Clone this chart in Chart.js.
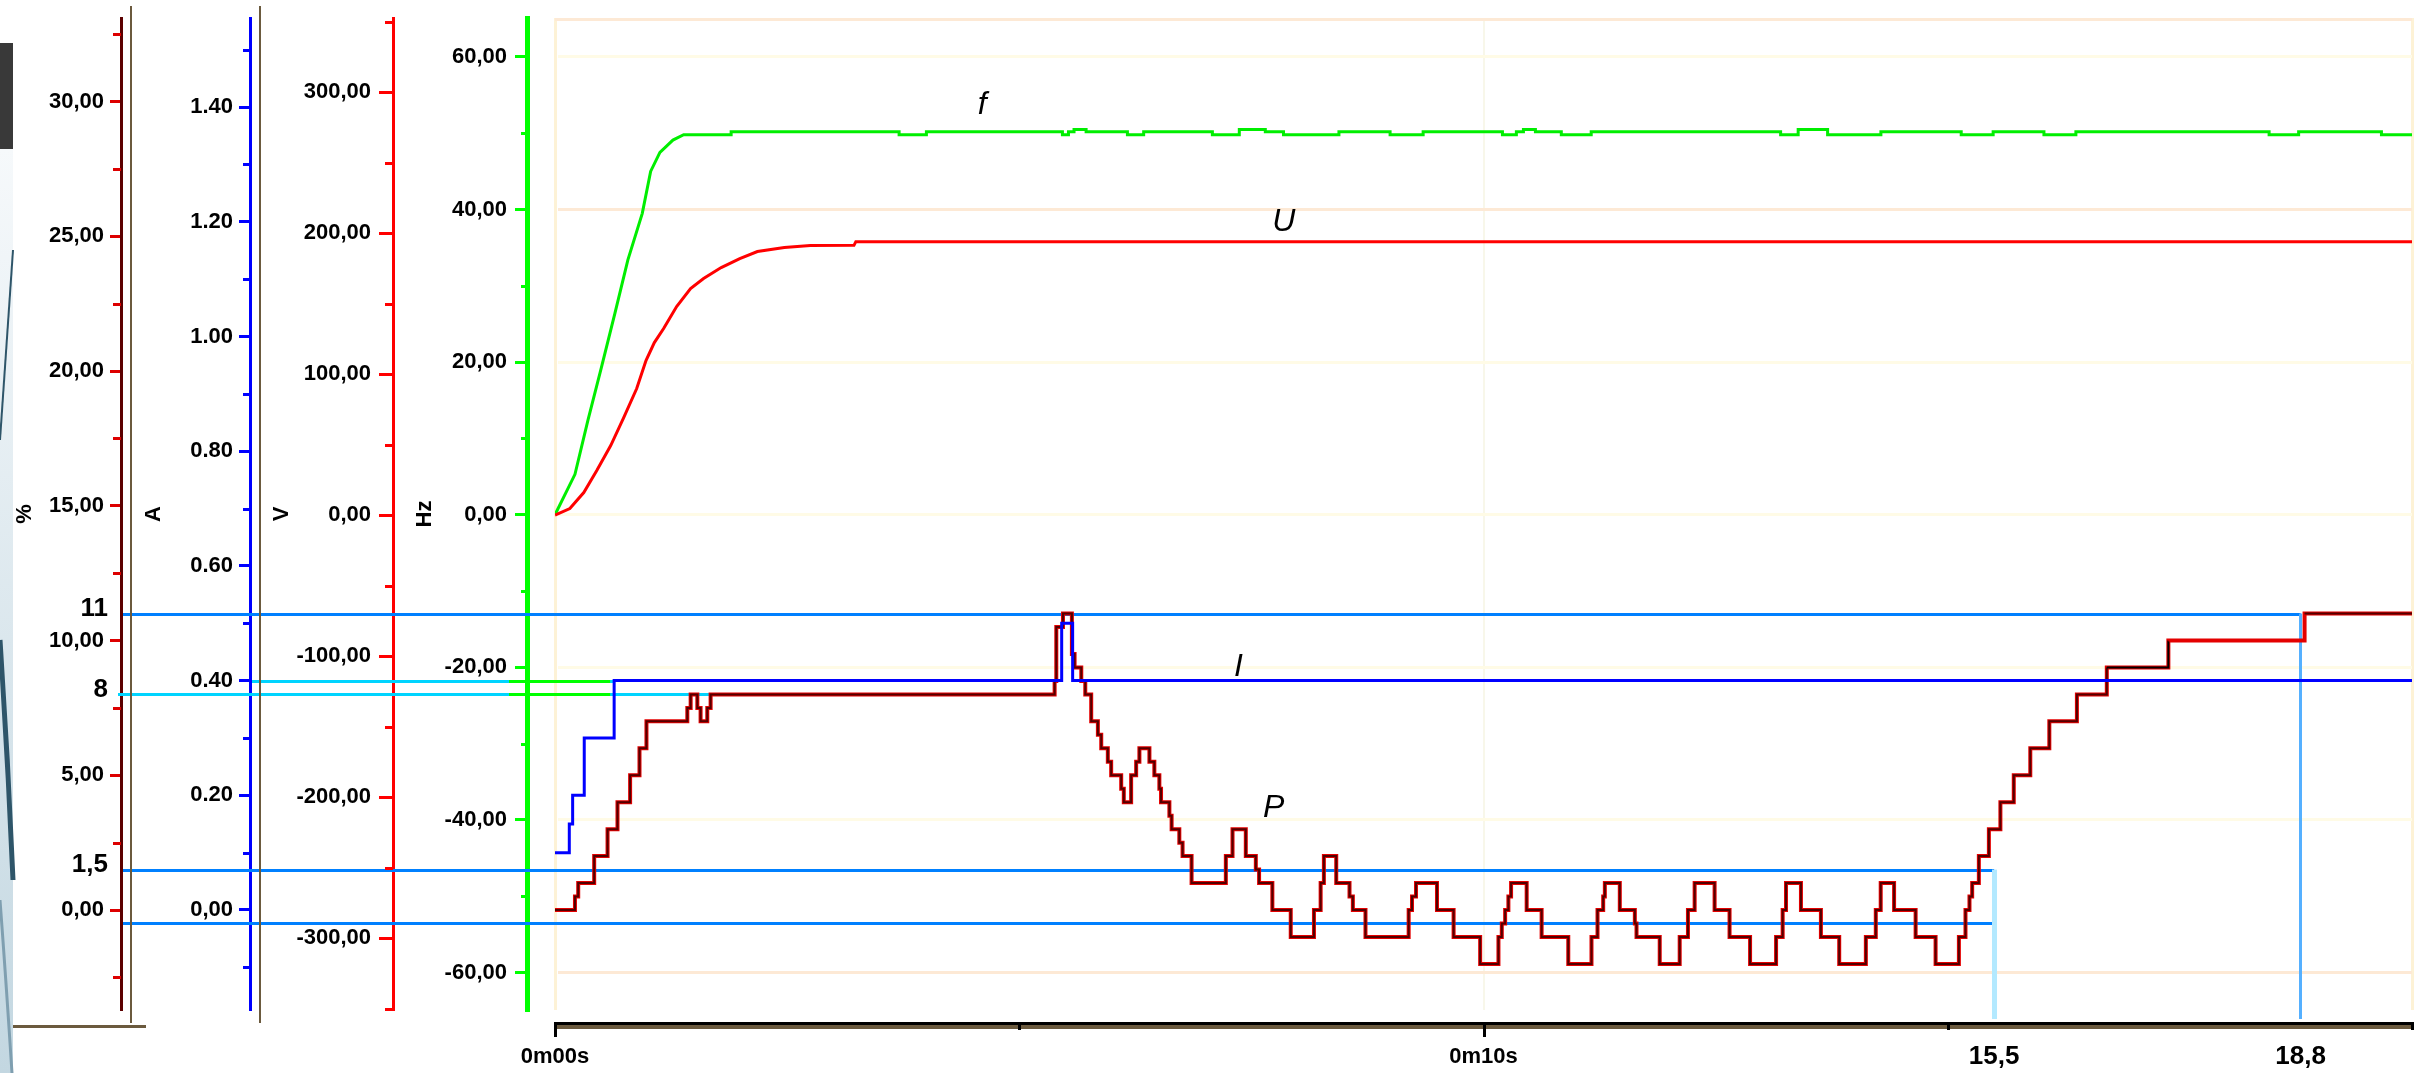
<!DOCTYPE html>
<html>
<head>
<meta charset="utf-8">
<script src="https://cdn.jsdelivr.net/npm/chart.js@4.4.1/dist/chart.umd.min.js"></script>
<style>
  html, body { margin: 0; padding: 0; background: #ffffff; }
  #wrap { position: relative; width: 2422px; height: 1073px; }
  canvas { display: block; }
</style>
</head>
<body>
<div id="wrap"><canvas id="c" width="2422" height="1073"></canvas></div>
<script>
// ---- time axis (seconds) ----
const xTickValues = [0, 10];
const xTickLabels = ['0m00s', '0m10s'];

// ---- axis ticks ----
const hzTicks = [60, 40, 20, 0, -20, -40, -60];
const hzTickLabels = ['60,00', '40,00', '20,00', '0,00', '-20,00', '-40,00', '-60,00'];
const vTicks = [300, 200, 100, 0, -100, -200, -300];
const vTickLabels = ['300,00', '200,00', '100,00', '0,00', '-100,00', '-200,00', '-300,00'];
const aTicks = [1.4, 1.2, 1.0, 0.8, 0.6, 0.4, 0.2, 0];
const aTickLabels = ['1.40', '1.20', '1.00', '0.80', '0.60', '0.40', '0.20', '0,00'];
const pctTicks = [30, 25, 20, 15, 10, 5, 0];
const pctTickLabels = ['30,00', '25,00', '20,00', '15,00', '10,00', '5,00', '0,00'];

// ---- f : output frequency (Hz) ----
const fT = [0, 0.215, 0.355, 0.5, 0.645, 0.785, 0.94, 1.03, 1.13, 1.27, 1.386, 1.897, 1.897, 3.706, 3.706, 4.0, 4.0,
  5.465, 5.465, 5.53, 5.53, 5.59, 5.59, 5.72, 5.72, 6.165, 6.165, 6.34, 6.34, 7.08, 7.08, 7.37, 7.37, 7.65, 7.65,
  7.846, 7.846, 8.443, 8.443, 8.994, 8.994, 9.35, 9.35, 10.204, 10.204, 10.354, 10.354, 10.43, 10.43, 10.559, 10.559,
  10.838, 10.838, 11.16, 11.16, 13.2, 13.2, 13.389, 13.389, 13.706, 13.706, 14.28, 14.28, 15.145, 15.145, 15.489, 15.489,
  16.036, 16.036, 16.38, 16.38, 18.461, 18.461, 18.779, 18.779, 19.671, 19.671, 20];
const fHz = [0, 5.3, 12.4, 19.3, 26.4, 33.4, 39.5, 45.0, 47.5, 49.1, 49.8, 49.8, 50.2, 50.2, 49.8, 49.8, 50.2,
  50.2, 49.8, 49.8, 50.2, 50.2, 50.5, 50.5, 50.2, 50.2, 49.8, 49.8, 50.2, 50.2, 49.8, 49.8, 50.5, 50.5, 50.2,
  50.2, 49.8, 49.8, 50.2, 50.2, 49.8, 49.8, 50.2, 50.2, 49.8, 49.8, 50.2, 50.2, 50.5, 50.5, 50.2,
  50.2, 49.8, 49.8, 50.2, 50.2, 49.8, 49.8, 50.5, 50.5, 49.8, 49.8, 50.2, 50.2, 49.8, 49.8, 50.2,
  50.2, 49.8, 49.8, 50.2, 50.2, 49.8, 49.8, 50.2, 50.2, 49.8, 49.8];

// ---- U : output voltage (V) ----
const uT = [0, 0.16, 0.31, 0.45, 0.60, 0.74, 0.88, 0.98, 1.07, 1.17, 1.31, 1.46, 1.60, 1.79, 1.99, 2.18, 2.47, 2.75, 3.22, 3.24, 20];
const uV = [0, 4.6, 16, 31.6, 49.3, 69.1, 89.7, 109.6, 122.3, 132.3, 147.9, 160.6, 167.7, 175.5, 181.9, 186.9, 189.7, 191.1, 191.3, 193.9, 193.9];

// ---- I : output current (A) ----
const iT = [0, 0.154, 0.19, 0.315, 0.637, 5.457, 5.575, 20];
const iA = [0.10, 0.15, 0.20, 0.30, 0.40, 0.50, 0.40, 0.40];

// ---- P : power (%) ----
const pT = [0, 0.215, 0.25, 0.422, 0.566, 0.673, 0.809, 0.91, 0.985, 1.425, 1.461, 1.533, 1.568, 1.64, 1.676,
  5.381, 5.399, 5.471, 5.567, 5.596, 5.668, 5.711, 5.775, 5.847, 5.883,
  5.954, 5.990, 6.098, 6.126, 6.205, 6.259, 6.294, 6.402, 6.455, 6.509,
  6.527, 6.617, 6.641, 6.724, 6.759, 6.856, 7.225, 7.297, 7.440, 7.548,
  7.583, 7.726, 7.924, 8.174, 8.246, 8.281, 8.414, 8.557, 8.593, 8.729,
  9.194, 9.230, 9.273, 9.499, 9.678, 9.964, 10.161, 10.197, 10.233, 10.268,
  10.297, 10.465, 10.626, 10.913, 11.163, 11.228, 11.289, 11.307, 11.468, 11.630,
  11.648, 11.898, 12.113, 12.202, 12.274, 12.489, 12.650, 12.871, 13.151, 13.222,
  13.258, 13.419, 13.634, 13.831, 14.118, 14.225, 14.278, 14.422, 14.654, 14.869,
  15.120, 15.191, 15.234, 15.263, 15.335, 15.443, 15.567, 15.711, 15.889, 16.094,
  16.391, 16.713, 17.376, 18.843, 20];
const pPct = [0, 0.5, 1.0, 2.0, 3.0, 4.0, 5.0, 6.0, 7.0, 7.5, 8.0, 7.5, 7.0, 7.5, 8.0,
  8.5, 10.5, 11.0, 9.5, 9.0, 8.5, 8.0, 7.0, 6.5, 6.0,
  5.5, 5.0, 4.5, 4.0, 5.0, 5.5, 6.0, 5.5, 5.0, 4.5,
  4.0, 3.5, 3.0, 2.5, 2.0, 1.0, 2.0, 3.0, 2.0, 1.5,
  1.0, 0.0, -1.0, 0.0, 1.0, 2.0, 1.0, 0.5, 0.0, -1.0,
  0.0, 0.5, 1.0, 0.0, -1.0, -2.0, -1.0, -0.5, 0.0, 0.5,
  1.0, 0.0, -1.0, -2.0, -1.0, 0.0, 0.5, 1.0, 0.0, -0.5,
  -1.0, -2.0, -1.0, 0.0, 1.0, 0.0, -1.0, -2.0, -1.0, 0.0,
  1.0, 0.0, -1.0, -2.0, -1.0, 0.0, 1.0, 0.0, -1.0, -2.0,
  -1.0, 0.0, 0.5, 1.0, 2.0, 3.0, 4.0, 5.0, 6.0, 7.0,
  8.0, 9.0, 10.0, 11.0, 11.0];

// ---- reference marks ----
const refLevels = [11, 8, 1.5, -0.5];          // P levels (%)
const refLevelLabels = ['11', '8', '1,5', ''];
const refLevelEnds = [18.8, 1.7, 15.5, 15.5];  // s
const currentRef = 0.40;                        // A
const markerTimes = [15.5, 18.8];               // s
const markerLabels = ['15,5', '18,8'];
const markerFromLevel = [1.5, 11];              // %

const curveLabels = [
  { text: 'f', axis: 'hz', t: 4.6, v: 53.7 },
  { text: 'U', axis: 'volt', t: 7.85, v: 208 },
  { text: 'I', axis: 'amp', t: 7.36, v: 0.424 },
  { text: 'P', axis: 'pct', t: 7.74, v: 3.79 }
];

const pts = (xs, ys) => xs.map((x, i) => ({ x, y: ys[i] }));
const FONT = "'Liberation Sans', Arial, sans-serif";

function fixedWidth(w) {
  return (s) => { s.width = w; s.paddingTop = 0; s.paddingBottom = 0; };
}
function tickSet(values) {
  return (s) => { s.ticks = values.map(v => ({ value: v })); };
}
function labelFrom(values, labels) {
  return (value) => { const i = values.indexOf(value); return i < 0 ? '' : labels[i]; };
}

function yAxis(opts) {
  return {
    type: 'linear',
    position: 'left',
    weight: opts.weight,
    min: opts.min,
    max: opts.max,
    afterFit: fixedWidth(opts.width),
    afterBuildTicks: tickSet(opts.ticks),
    border: { display: true, color: opts.color, width: opts.borderWidth },
    grid: Object.assign({
      drawOnChartArea: false,
      drawTicks: true,
      tickLength: opts.tickLength,
      tickColor: opts.tickColor || opts.color,
      tickWidth: 3
    }, opts.grid || {}),
    ticks: {
      padding: opts.pad,
      color: '#000000',
      font: { family: FONT, size: 22, weight: 'bold' },
      callback: labelFrom(opts.ticks, opts.labels),
      autoSkip: false
    },
    title: {
      display: true,
      text: opts.title,
      color: '#000000',
      font: { family: FONT, size: 22, weight: 'bold' },
      padding: { top: opts.titlePad, bottom: 0 }
    }
  };
}

const minorTicks = {
  hz:   { values: [50, 30, 10, -10, -30, -50], len: 6, color: '#00ff00' },
  volt: { values: [350, 250, 150, 50, -50, -150, -250, -350], len: 8, color: '#ff0000' },
  amp:  { values: [1.5, 1.3, 1.1, 0.9, 0.7, 0.5, 0.3, 0.1, -0.1], len: 7, color: '#0000ff' },
  pct:  { values: [32.5, 27.5, 22.5, 17.5, 12.5, 7.5, 2.5, -2.5], len: 8, color: '#dd0000' }
};

const decor = {
  id: 'decor',
  beforeDraw(chart) {
    const { ctx, width, height } = chart;
    ctx.save();
    ctx.fillStyle = '#ffffff';
    ctx.fillRect(0, 0, width, height);
    // slide edge at the far left
    ctx.fillStyle = '#393939';
    ctx.fillRect(0, 43, 13, 106);
    const g = ctx.createLinearGradient(0, 149, 0, height);
    g.addColorStop(0, '#f6f9fb');
    g.addColorStop(1, '#c3d7e1');
    ctx.fillStyle = g;
    ctx.fillRect(0, 149, 13, height - 149);
    ctx.strokeStyle = '#2e5569';
    ctx.lineWidth = 2;
    ctx.beginPath(); ctx.moveTo(13, 250); ctx.lineTo(0, 440); ctx.stroke();
    ctx.lineWidth = 5;
    ctx.beginPath(); ctx.moveTo(0, 640); ctx.quadraticCurveTo(8, 760, 13, 880); ctx.stroke();
    ctx.strokeStyle = '#7f9fb0';
    ctx.lineWidth = 3;
    ctx.beginPath(); ctx.moveTo(0, 900); ctx.quadraticCurveTo(6, 980, 12, 1073); ctx.stroke();
    ctx.restore();
  },
  beforeDatasetsDraw(chart) {
    const { ctx, chartArea: ca, scales } = chart;
    const xs = scales.x, ps = scales.pct, as = scales.amp, hs = scales.hz;
    ctx.save();
    // chart area top edge
    ctx.fillStyle = '#fde9d5';
    ctx.fillRect(ca.left, ca.top, ca.right - ca.left, 3);

    // P reference levels
    const levelColors = ['#0080ff', '#00d4ff', '#0080ff', '#0080ff'];
    const levelStart = [2, -3, 2, 2];
    refLevels.forEach((v, i) => {
      const y = Math.round(ps.getPixelForValue(v));
      const x0 = ps.right + levelStart[i];
      const x1 = xs.getPixelForValue(refLevelEnds[i]);
      ctx.fillStyle = levelColors[i];
      ctx.fillRect(x0, y - 1, x1 - x0, 3);
    });
    // current reference level
    const yA = Math.round(as.getPixelForValue(currentRef));
    const xA1 = xs.getPixelForValue(iT[4]);
    ctx.fillStyle = '#00d4ff';
    ctx.fillRect(as.right + 2, yA - 1, xA1 - as.right - 2, 3);
    // green overlay near the Hz axis
    ctx.fillStyle = '#00ff00';
    const g0 = hs.right - 18, g1 = xA1 - 4;
    ctx.fillRect(g0, yA - 1, g1 - g0, 3);
    const y8 = Math.round(ps.getPixelForValue(refLevels[1]));
    ctx.fillRect(g0, y8 - 1, g1 - g0, 3);

    // time markers
    const mColors = ['#b3e9ff', '#55b0ff'];
    const mWidths = [5, 3];
    markerTimes.forEach((t, i) => {
      const x = xs.getPixelForValue(t);
      const y0 = ps.getPixelForValue(markerFromLevel[i]);
      ctx.fillStyle = mColors[i];
      ctx.fillRect(Math.round(x - mWidths[i] / 2), y0, mWidths[i], ca.bottom + 9 - y0);
    });
    ctx.restore();
  },
  afterDraw(chart) {
    const { ctx, chartArea: ca, scales } = chart;
    const xs = scales.x, ps = scales.pct, as = scales.amp;
    ctx.save();
    // minor ticks on the value axes
    Object.keys(minorTicks).forEach(id => {
      const s = scales[id], m = minorTicks[id];
      ctx.fillStyle = m.color;
      m.values.forEach(v => {
        const y = Math.round(s.getPixelForValue(v));
        ctx.fillRect(s.right - m.len, y - 1, m.len, 3);
      });
    });
    // frame lines between the axis blocks
    ctx.fillStyle = '#6b5a3e';
    [ps.right + 10, as.right + 10].forEach(x => ctx.fillRect(Math.round(x) - 1, 6, 2, ca.bottom + 13 - 6));
    ctx.fillRect(13, ca.bottom + 15, ps.right + 25 - 13, 3);

    // time axis base line and ticks
    const yb = ca.bottom + 12;
    ctx.fillStyle = '#000000';
    ctx.fillRect(ca.left - 1, yb, ca.right - ca.left + 1, 3);
    ctx.fillStyle = '#6b5a3e';
    ctx.fillRect(ca.left - 1, yb + 3, ca.right - ca.left + 1, 4);
    ctx.fillStyle = '#000000';
    [0, 5, 10, 15, 20].forEach(t => {
      const x = Math.round(xs.getPixelForValue(t));
      const long = xTickValues.includes(t);
      ctx.fillRect(x - 1, yb, 3, long ? 15 : 8);
    });

    // reference level labels
    ctx.font = `bold 26px ${FONT}`;
    ctx.fillStyle = '#000000';
    ctx.textAlign = 'right';
    ctx.textBaseline = 'middle';
    refLevels.forEach((v, i) => {
      if (!refLevelLabels[i]) return;
      ctx.fillText(refLevelLabels[i], ps.right - 13, ps.getPixelForValue(v) - 5);
    });
    // time marker labels
    ctx.textAlign = 'center';
    markerTimes.forEach((t, i) => {
      ctx.fillText(markerLabels[i], xs.getPixelForValue(t), ca.bottom + 47);
    });
    // curve names
    ctx.font = `italic 32px ${FONT}`;
    curveLabels.forEach(l => {
      ctx.fillText(l.text, xs.getPixelForValue(l.t), scales[l.axis].getPixelForValue(l.v));
    });
    ctx.restore();
  }
};

const ctx = document.getElementById('c').getContext('2d');
new Chart(ctx, {
  type: 'line',
  data: {
    datasets: [
      { label: 'I', data: pts(iT, iA), yAxisID: 'amp', borderColor: '#0000ff', borderWidth: 3, stepped: true, order: 0 },
      { label: 'P', data: pts(pT, pPct), yAxisID: 'pct', borderColor: '#520000', borderWidth: 2, stepped: true, order: 1,
        segment: {
          borderColor: (c) => {
            const x0 = c.p0.parsed.x;
            if (x0 >= 17.3 && x0 < 18.8) return '#e40000';
            if (x0 >= 16.7 && x0 < 17.3) return '#000000';
            return undefined;
          }
        } },
      { label: 'P ', data: pts(pT, pPct), yAxisID: 'pct', borderColor: '#e40000', borderWidth: 4, stepped: true, order: 2 },
      { label: 'U', data: pts(uT, uV), yAxisID: 'volt', borderColor: '#ff0000', borderWidth: 3, order: 3 },
      { label: 'f', data: pts(fT, fHz), yAxisID: 'hz', borderColor: '#00ee00', borderWidth: 3, order: 4 }
    ]
  },
  options: {
    responsive: false,
    animation: false,
    devicePixelRatio: 1,
    layout: { padding: { left: 0, right: 10, top: 18, bottom: 0 } },
    elements: { point: { radius: 0 }, line: { tension: 0 } },
    plugins: { legend: { display: false }, tooltip: { enabled: false } },
    scales: {
      x: {
        type: 'linear',
        position: 'bottom',
        min: 0,
        max: 20,
        afterFit: (s) => { s.height = 63; s.paddingLeft = 0; s.paddingRight = 0; },
        afterBuildTicks: tickSet([0, 5, 10, 15, 20]),
        border: { display: false },
        grid: {
          drawTicks: false,
          color: (c) => {
            const v = c.tick && c.tick.value;
            if (v === 0 || v === 20) return '#fdf2d6';
            if (v === 10) return '#f8f7ea';
            return 'rgba(0,0,0,0)';
          },
          lineWidth: (c) => (c.tick && c.tick.value === 10 ? 2 : 3)
        },
        ticks: {
          padding: 34,
          color: '#000000',
          maxRotation: 0,
          autoSkip: false,
          font: { family: FONT, size: 22, weight: 'bold' },
          callback: labelFrom(xTickValues, xTickLabels)
        }
      },
      gap: {
        type: 'linear', position: 'left', weight: 0, min: 0, max: 1,
        afterFit: fixedWidth(28),
        border: { display: false }, grid: { display: false }, ticks: { display: false }
      },
      hz: yAxis({
        weight: 1, min: -64.9, max: 65.1, width: 134, ticks: hzTicks, labels: hzTickLabels,
        color: '#00ff00', borderWidth: 5, tickLength: 12, pad: 8, title: 'Hz', titlePad: 19,
        grid: {
          drawOnChartArea: true,
          lineWidth: 3,
          color: (c) => {
            const v = c.tick && c.tick.value;
            return (v === 40 || v === -60) ? '#fde9d5' : '#fffbe6';
          }
        }
      }),
      volt: yAxis({
        weight: 2, min: -351, max: 352.5, width: 143, ticks: vTicks, labels: vTickLabels,
        color: '#ff0000', borderWidth: 3, tickLength: 14, pad: 8, title: 'V', titlePad: 19
      }),
      amp: yAxis({
        weight: 3, min: -0.1744, max: 1.5554, width: 129, ticks: aTicks, labels: aTickLabels,
        color: '#0000ff', borderWidth: 3, tickLength: 11, pad: 6, title: 'A', titlePad: 20
      }),
      pct: yAxis({
        weight: 4, min: -3.71, max: 33.1, width: 121, ticks: pctTicks, labels: pctTickLabels,
        color: '#5c0000', tickColor: '#dd0000', borderWidth: 3, tickLength: 11, pad: 6, title: '%', titlePad: 12
      })
    }
  },
  plugins: [decor]
});
</script>
</body>
</html>
